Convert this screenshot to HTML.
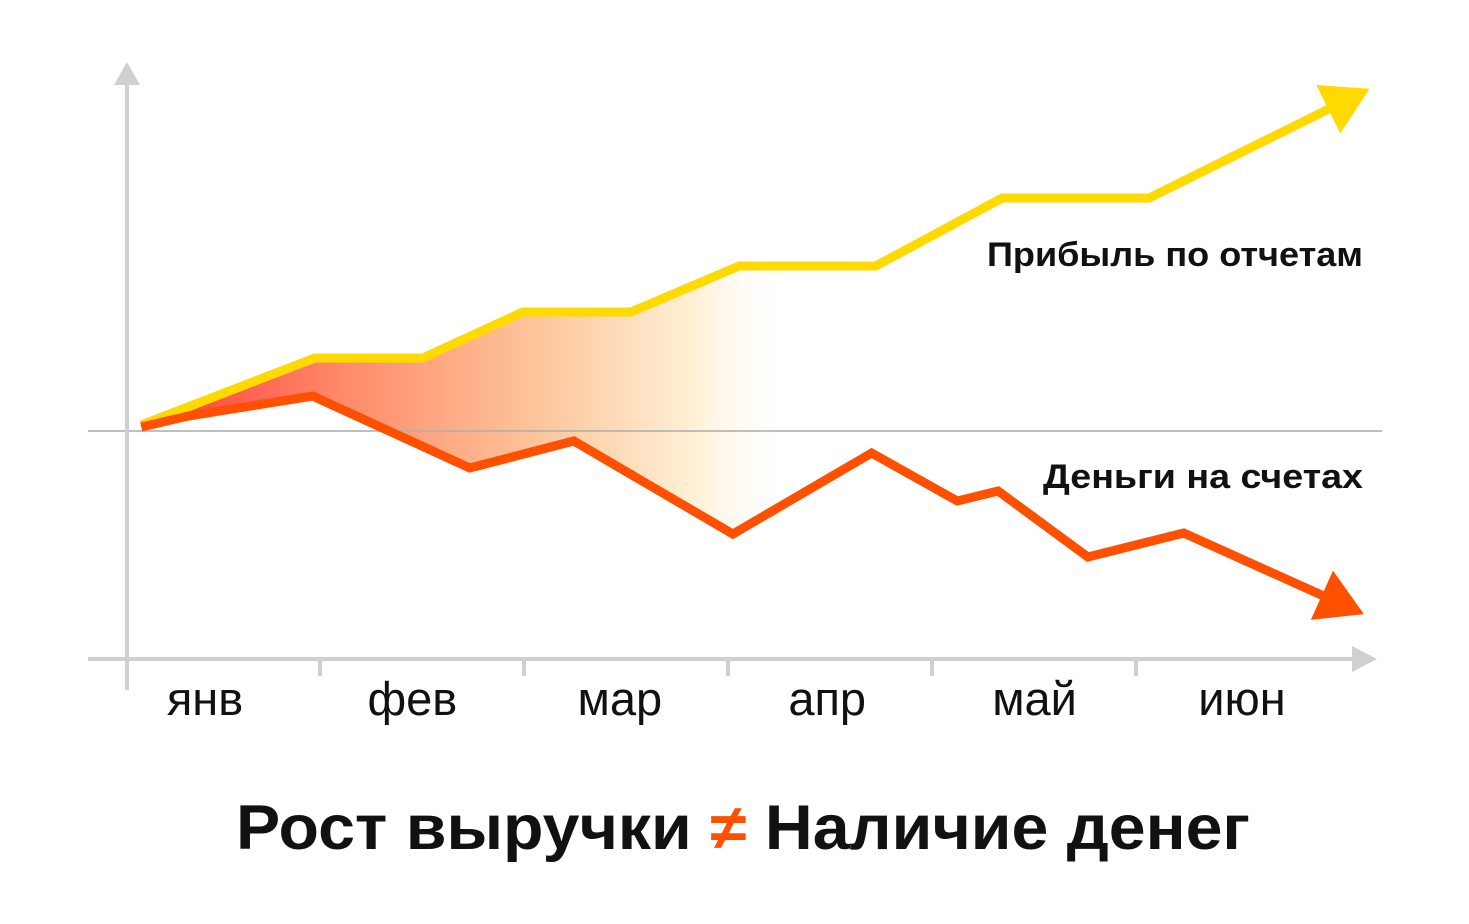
<!DOCTYPE html>
<html><head><meta charset="utf-8"><style>
html,body{margin:0;padding:0;background:#fff;}
svg{display:block;}
text{font-family:"Liberation Sans",sans-serif;}
</style></head><body>
<svg id="chart" width="1469" height="924" viewBox="0 0 1469 924" xmlns="http://www.w3.org/2000/svg">
<defs>
<linearGradient id="gapGrad" gradientUnits="userSpaceOnUse" x1="150" y1="0" x2="790" y2="0">
<stop offset="0" stop-color="#ff3b3b"/>
<stop offset="0.3" stop-color="#ff8a6a"/>
<stop offset="0.6" stop-color="#fdc49a"/>
<stop offset="0.85" stop-color="#fff0d6"/>
<stop offset="1" stop-color="#ffffff" stop-opacity="0"/>
</linearGradient>
</defs>
<g id="fill-layer"></g>
<line x1="88" y1="431" x2="1382" y2="431" stroke="#b0b0b0" stroke-width="2" opacity="0.8"/>
<g>
<line x1="127" y1="84" x2="127" y2="690" stroke="#d0d0d0" stroke-width="4"/>
<polygon points="127,62 114,85 140,85" fill="#d0d0d0"/>
</g>
<g>
<line x1="88" y1="659" x2="1356" y2="659" stroke="#d0d0d0" stroke-width="4"/>
<polygon points="1377,659 1352,646 1352,672" fill="#d0d0d0"/>
</g>
<g id="ticks"></g>
<g id="lines"></g>
<text x="987" y="266" textLength="376" lengthAdjust="spacingAndGlyphs" font-size="34" font-weight="bold" fill="#111">Прибыль по отчетам</text>
<text x="1043" y="488" textLength="320" lengthAdjust="spacingAndGlyphs" font-size="34" font-weight="bold" fill="#111">Деньги на счетах</text>
<text x="236" y="849" textLength="1014" lengthAdjust="spacingAndGlyphs" font-size="63" font-weight="bold" fill="#111">Рост выручки <tspan fill="#ff5000">≠</tspan> Наличие денег</text>
</svg>
<script>
const months = ["янв","фев","мар","апр","май","июн"];
const profitT = [0.07,0.92,1.45,1.94,2.47,3.0,3.67,4.29,5.01,5.95];
const profitV = [6,73,73,119,119,165,165,233,233,328];
const cashT = [0.07,0.3,0.91,1.68,2.19,2.97,3.65,4.07,4.27,4.71,5.18,5.92];
const cashV = [4,15,35,-37,-10,-103,-22,-70,-60,-126,-102,-170];
const fillEndT = 3.2;

const NS="http://www.w3.org/2000/svg";
const X = t => 127 + 204*t;
const Y = v => 431 - v;

const tg=document.getElementById('ticks');
months.forEach((m,i)=>{
  if(i>0){
    const l=document.createElementNS(NS,'line');
    
    
    l.setAttribute('x1',X(i)-11);l.setAttribute('x2',X(i)-11);
    l.setAttribute('y1',659);l.setAttribute('y2',676);
    l.setAttribute('stroke','#d0d0d0');l.setAttribute('stroke-width',4);
    tg.appendChild(l);
  }
  const t=document.createElementNS(NS,'text');
  
  
  t.setAttribute('x',205+207.4*i);t.setAttribute('y',715);
  t.setAttribute('text-anchor','middle');t.setAttribute('font-size','47');t.setAttribute('fill','#111');
  t.textContent=m;tg.appendChild(t);
});

function interp(T,V,t){for(let i=1;i<T.length;i++){if(t<=T[i]){const f=(t-T[i-1])/(T[i]-T[i-1]);return V[i-1]+f*(V[i]-V[i-1]);}}return V[V.length-1];}
let pts=[];
profitT.forEach((t,i)=>{if(t<=fillEndT)pts.push([X(t),Y(profitV[i])]);});
pts.push([X(fillEndT),Y(interp(profitT,profitV,fillEndT))]);
pts.push([X(fillEndT),Y(interp(cashT,cashV,fillEndT))]);
for(let i=cashT.length-1;i>=0;i--){if(cashT[i]<=fillEndT)pts.push([X(cashT[i]),Y(cashV[i])]);}
const poly=document.createElementNS(NS,'polygon');


poly.setAttribute('points',pts.map(p=>p.join(',')).join(' '));
poly.setAttribute('fill','url(#gapGrad)');
document.getElementById('fill-layer').appendChild(poly);

const lg=document.getElementById('lines');
function series(T,V,color,name){
  const p=T.map((t,i)=>[X(t),Y(V[i])]);
  const pl=document.createElementNS(NS,'polyline');
  
  
  pl.setAttribute('points',p.map(q=>q.join(',')).join(' '));
  pl.setAttribute('fill','none');pl.setAttribute('stroke',color);
  pl.setAttribute('stroke-width',9);pl.setAttribute('stroke-linejoin','miter');
  lg.appendChild(pl);
  const a=p[p.length-2],b=p[p.length-1];
  const dx=b[0]-a[0],dy=b[1]-a[1],L=Math.hypot(dx,dy),ux=dx/L,uy=dy/L;
  const tip=[b[0]+ux*32,b[1]+uy*32];
  const base=[b[0]-ux*14,b[1]-uy*14];
  const w=27;
  const h=document.createElementNS(NS,'polygon');
  
  
  h.setAttribute('points',[tip,[base[0]-uy*w,base[1]+ux*w],[base[0]+uy*w,base[1]-ux*w]].map(q=>q.join(',')).join(' '));
  h.setAttribute('fill',color);
  lg.appendChild(h);
}
series(profitT,profitV,'#ffda00','profit');
series(cashT,cashV,'#ff5000','cash');
</script>
</body></html>
